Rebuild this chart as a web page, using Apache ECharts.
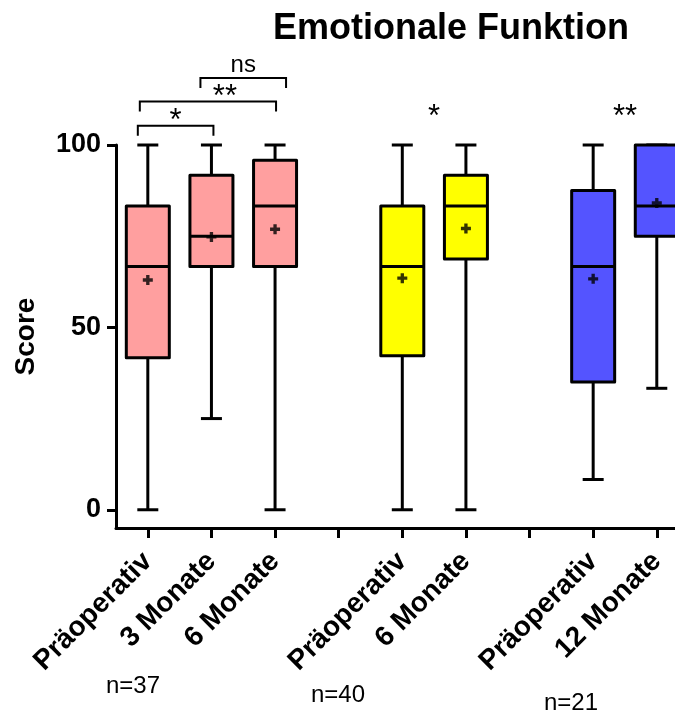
<!DOCTYPE html>
<html><head><meta charset="utf-8">
<script src="https://cdn.jsdelivr.net/npm/echarts@6/dist/echarts.min.js"></script>
<style>html,body{margin:0;padding:0;background:#fff}#c{width:675px;height:713px}</style>
</head><body><div id="c"></div>
<script>
// ---- data ----
const categories = ['Präoperativ','3 Monate','6 Monate','','Präoperativ','6 Monate','','Präoperativ','12 Monate'];
const boxIndex  = [0, 1, 2, 4, 5, 7, 8];
const boxMin    = [0, 25, 0, 0, 0, 8.3, 33.3];
const boxQ1     = [41.7, 66.7, 66.7, 42.2, 68.75, 35, 75];
const boxMedian = [66.7, 75, 83.3, 66.7, 83.3, 66.7, 83.3];
const boxQ3     = [83.3, 91.7, 95.8, 83.3, 91.7, 87.5, 100];
const boxMax    = [100, 100, 100, 100, 100, 100, 100];
const boxMean   = [63.0, 74.8, 76.9, 63.5, 77.1, 63.3, 84.1];
const boxGroup  = [0, 0, 0, 1, 1, 2, 2];
const yTicks = [0, 50, 100];
const sampleLabels = ['n=37', 'n=40', 'n=21'];
const sigFrom  = [0, 0, 1, 4, 7];
const sigTo    = [1, 2, 2, 5, 8];
const sigText  = ['*', '**', 'ns', '*', '**'];
const sigLevel = [105.3, 111.9, 118.4, 106.2, 106.2];
const sigBracket = [true, true, true, false, false];

// ---- styles ----
const groupColors = ['#FF9F9F', '#FFFF00', '#5454FF'];
const FONT = '"Liberation Sans", Arial, sans-serif';
const bracketDx = [[-10, 2, 0], [-8, 1, 17], [-11, 11, 0], [0, 0, 0], [0, 0, 0]];

const chart = echarts.init(document.getElementById('c'), null, {renderer: 'canvas'});

const boxData = boxIndex.map((x, i) => [x, boxMin[i], boxQ1[i], boxMedian[i], boxQ3[i], boxMax[i], boxGroup[i]]);
const meanData = boxIndex.map((x, i) => [x, boxMean[i]]);
const sigData = sigFrom.map((f, i) => [f, sigTo[i], sigLevel[i], i]);

function renderBox(params, api) {
  const x = api.value(0);
  const pMin = api.coord([x, api.value(1)]);
  const pQ1 = api.coord([x, api.value(2)]);
  const pMed = api.coord([x, api.value(3)]);
  const pQ3 = api.coord([x, api.value(4)]);
  const pMax = api.coord([x, api.value(5)]);
  const color = groupColors[api.value(6)];
  const hw = 21.5, cw = 10.5, lw = 3;
  const ls = {stroke: '#000', lineWidth: lw};
  const cx = pMed[0];
  return {
    type: 'group',
    children: [
      {type: 'line', shape: {x1: cx, y1: pMax[1], x2: cx, y2: pQ3[1]}, style: ls},
      {type: 'line', shape: {x1: cx - cw, y1: pMax[1], x2: cx + cw, y2: pMax[1]}, style: ls},
      {type: 'line', shape: {x1: cx, y1: pQ1[1], x2: cx, y2: pMin[1]}, style: ls},
      {type: 'line', shape: {x1: cx - cw, y1: pMin[1], x2: cx + cw, y2: pMin[1]}, style: ls},
      {type: 'rect', shape: {x: cx - hw, y: pQ3[1], width: hw * 2, height: pQ1[1] - pQ3[1]},
        style: {fill: color, stroke: '#000', lineWidth: lw, lineJoin: 'round'}},
      {type: 'line', shape: {x1: cx - hw, y1: pMed[1], x2: cx + hw, y2: pMed[1]}, style: ls}
    ]
  };
}

function renderSig(params, api) {
  const i = api.value(3);
  const a = api.coord([api.value(0), api.value(2)]);
  const b = api.coord([api.value(1), api.value(2)]);
  const d = bracketDx[i];
  const x1 = a[0] + d[0], x2 = b[0] + d[1], y = a[1];
  const children = [];
  if (sigBracket[i]) {
    children.push({type: 'polyline', shape: {points: [[x1, y + 10], [x1, y], [x2, y], [x2, y + 10]]},
      style: {stroke: '#000', lineWidth: 2, fill: null}});
  }
  const isNs = sigText[i] === 'ns';
  children.push({type: 'text', x: (x1 + x2) / 2 + d[2], y: isNs ? y - 1 : y + 11,
    style: {text: sigText[i], font: (isNs ? '24px ' : '31px ') + FONT, fill: '#000', align: 'center', verticalAlign: 'bottom'}});
  return {type: 'group', children};
}

const option = {
  animation: false,
  backgroundColor: '#fff',
  title: {
    text: 'Emotionale Funktion', left: 268, top: 6,
    textStyle: {fontFamily: FONT, fontSize: 36, fontWeight: 'bold', color: '#000'}
  },
  grid: {left: 116, top: 145, width: 572.6, height: 383, containLabel: false, outerBoundsMode: 'none'},
  xAxis: {
    type: 'category', data: categories, boundaryGap: true,
    axisLine: {onZero: false, lineStyle: {color: '#000', width: 3}},
    axisTick: {show: true, interval: 0, inside: false, alignWithLabel: true, length: 10, lineStyle: {color: '#000', width: 3}},
    axisLabel: {interval: 0, rotate: 45, margin: 29, color: '#000', fontFamily: FONT, fontSize: 28, fontWeight: 'bold'},
    splitLine: {show: false}
  },
  yAxis: {
    type: 'value', min: -5, max: 100,
    name: 'Score', nameLocation: 'middle', nameGap: 76, nameRotate: 90,
    nameTextStyle: {fontFamily: FONT, fontSize: 28, fontWeight: 'bold', color: '#000'},
    axisLine: {show: true, lineStyle: {color: '#000', width: 3}},
    axisTick: {show: true, length: 9, customValues: yTicks, lineStyle: {color: '#000', width: 3}},
    axisLabel: {customValues: yTicks, margin: 15, color: '#000', fontFamily: FONT, fontSize: 27, fontWeight: 'bold'},
    splitLine: {show: false}
  },
  series: [
    {type: 'custom', coordinateSystem: 'cartesian2d', data: boxData, renderItem: renderBox, clip: false, z: 2},
    {type: 'scatter', data: meanData, symbol: 'path://M3,0H6V3H9V6H6V9H3V6H0V3H3Z', symbolSize: 10,
      itemStyle: {color: '#000'}, z: 3, silent: true},
    {type: 'custom', coordinateSystem: 'cartesian2d', data: sigData, renderItem: renderSig, clip: false, z: 4}
  ],
  graphic: [
    {type: 'text', x: 133, y: 686, style: {text: sampleLabels[0], font: '24px ' + FONT, fill: '#000', align: 'center', verticalAlign: 'middle'}},
    {type: 'text', x: 338, y: 695, style: {text: sampleLabels[1], font: '24px ' + FONT, fill: '#000', align: 'center', verticalAlign: 'middle'}},
    {type: 'text', x: 571, y: 703, style: {text: sampleLabels[2], font: '24px ' + FONT, fill: '#000', align: 'center', verticalAlign: 'middle'}}
  ]
};
chart.setOption(option);
</script>
</body></html>
